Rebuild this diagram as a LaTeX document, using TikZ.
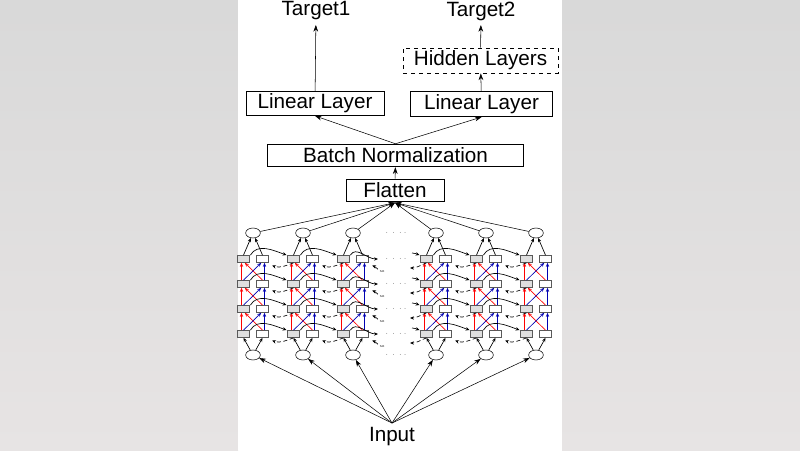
\documentclass[tikz,border=0pt]{standalone}
\usepackage{fontspec}
\setmainfont{Liberation Sans}
\usetikzlibrary{shapes.geometric,arrows.meta}
\begin{document}
\begin{tikzpicture}[x=0.75pt,y=-0.75pt,
  lbl/.style={draw,semithick,inner sep=0pt,font=\fontsize{15.5}{18}\selectfont},
  bx/.style={draw=gray!70!black,thick,minimum width=9.5pt,minimum height=5pt,inner sep=0pt},
  el/.style={draw,ellipse,minimum width=11pt,minimum height=7.5pt,inner sep=0pt},
  ar/.style={-{Stealth[length=5pt,width=3.5pt]}},
  sa/.style={-{Stealth[length=3pt,width=2.5pt]},line width=0.5pt},
  dotsn/.style={font=\tiny,inner sep=0pt}]
\useasboundingbox (0,0) rectangle (800,450);
\shade[top color=gray!30,bottom color=red!6!gray!20] (0,0) rectangle (238,450);
\shade[top color=gray!30,bottom color=red!6!gray!20] (562,0) rectangle (800,450);
\fill[white] (238,0) rectangle (562,450);
% top labels
\node[font=\fontsize{15.5}{18}\selectfont] (t1) at (316,11) {Target1};
\node[font=\fontsize{15.5}{18}\selectfont] (t2) at (481,11) {Target2};
\node[lbl,minimum width=103.5pt,minimum height=18pt] (ll1) at (315,103.5) {Linear Layer};
\node[lbl,minimum width=107pt,minimum height=19pt] (ll2) at (481.5,104) {Linear Layer};
\node[lbl,dashed,thin,minimum width=116pt,minimum height=19pt] (hl) at (480.5,60.5) {Hidden Layers};
\node[lbl,minimum width=192.5pt,minimum height=17pt] (bn) at (395.5,155.5) {Batch Normalization};
\node[lbl,minimum width=73.5pt,minimum height=16.5pt] (fl) at (395,190) {Flatten};
\node[font=\fontsize{15.5}{18}\selectfont] (in) at (392,437) {Input};
\draw[ar] (ll1) -- (t1);
\draw[ar] (hl) -- (t2);
\draw[ar] (ll2) -- (hl);
\draw[ar] (bn.north) -- (ll1.south);
\draw[ar] (bn.north) -- (ll2.south);
\draw[ar] (fl) -- (bn);
% columns
\foreach \c/\x in {1/253,2/303,3/353,4/436,5/486,6/536}{
  \node[el] (t\c) at (\x,233) {};
  \node[el] (b\c) at (\x,355) {};
  \foreach \r/\y in {1/334,2/309,3/284,4/259}{
    \node[bx,fill=gray!25] (L\c\r) at (\x-9.5,\y) {};
    \node[bx,fill=white] (R\c\r) at (\x+9.5,\y) {};
  }
  \draw[ar] (t\c) -- ([yshift=-1pt]fl.south);
  \draw[ar] (in.north) -- (b\c);
  \draw[sa] (b\c) -- (L\c1.south);
  \draw[sa] (b\c) -- (R\c1.south);
  \draw[sa] (L\c4.north) -- (t\c);
  \draw[sa] (R\c4.north) -- (t\c);
  \foreach \r/\s in {1/2,2/3,3/4}{
    \draw[sa,red] ([xshift=-1.5pt]L\c\r.north) -- ([xshift=-1.5pt]L\c\s.south);
    \draw[sa,red] (R\c\r.north) -- ([xshift=1pt]L\c\s.south);
    \draw[sa,blue!70!black] ([xshift=1.5pt]R\c\r.north) -- ([xshift=1.5pt]R\c\s.south);
    \draw[sa,blue!70!black] (L\c\r.north) -- ([xshift=-1pt]R\c\s.south);
  }
}
% horizontal recurrences
\foreach \a/\b in {1/2,2/3,4/5,5/6}{
  \foreach \r in {1,2,3,4}{
    \draw[sa] (L\a\r.north east) to[out=60,in=160] (L\b\r.north west);
    \draw[sa,densely dashed] (L\b\r.south) to[out=200,in=-20] ([xshift=2pt,yshift=-2pt]R\a\r.south east);
  }
}
\foreach \r/\y in {1/334,2/309,3/284,4/259}{
  \coordinate (o\r) at (378,\y);
  \coordinate (p\r) at (384,\y+12);
  \coordinate (q\r) at (412,\y-6);
  \coordinate (s\r) at (410,\y+9);
  \draw[sa] (L3\r.north east) to[out=60,in=180] (o\r);
  \draw[sa,densely dashed] (p\r) to[out=200,in=-20] ([xshift=2pt,yshift=-2pt]R3\r.south east);
  \draw[sa] (q\r) to[out=0,in=160] (L4\r.north west);
  \draw[sa,densely dashed] (L4\r.south) to[out=200,in=0] (s\r);
}
\foreach \y/\n in {233/a,259/b,284/c,309/d,334/e,355/f}{
  \node[dotsn] (d\n) at (396,\y) {$\cdot\,\cdot\,\cdot\,\cdot$};
}
\end{tikzpicture}
\end{document}
